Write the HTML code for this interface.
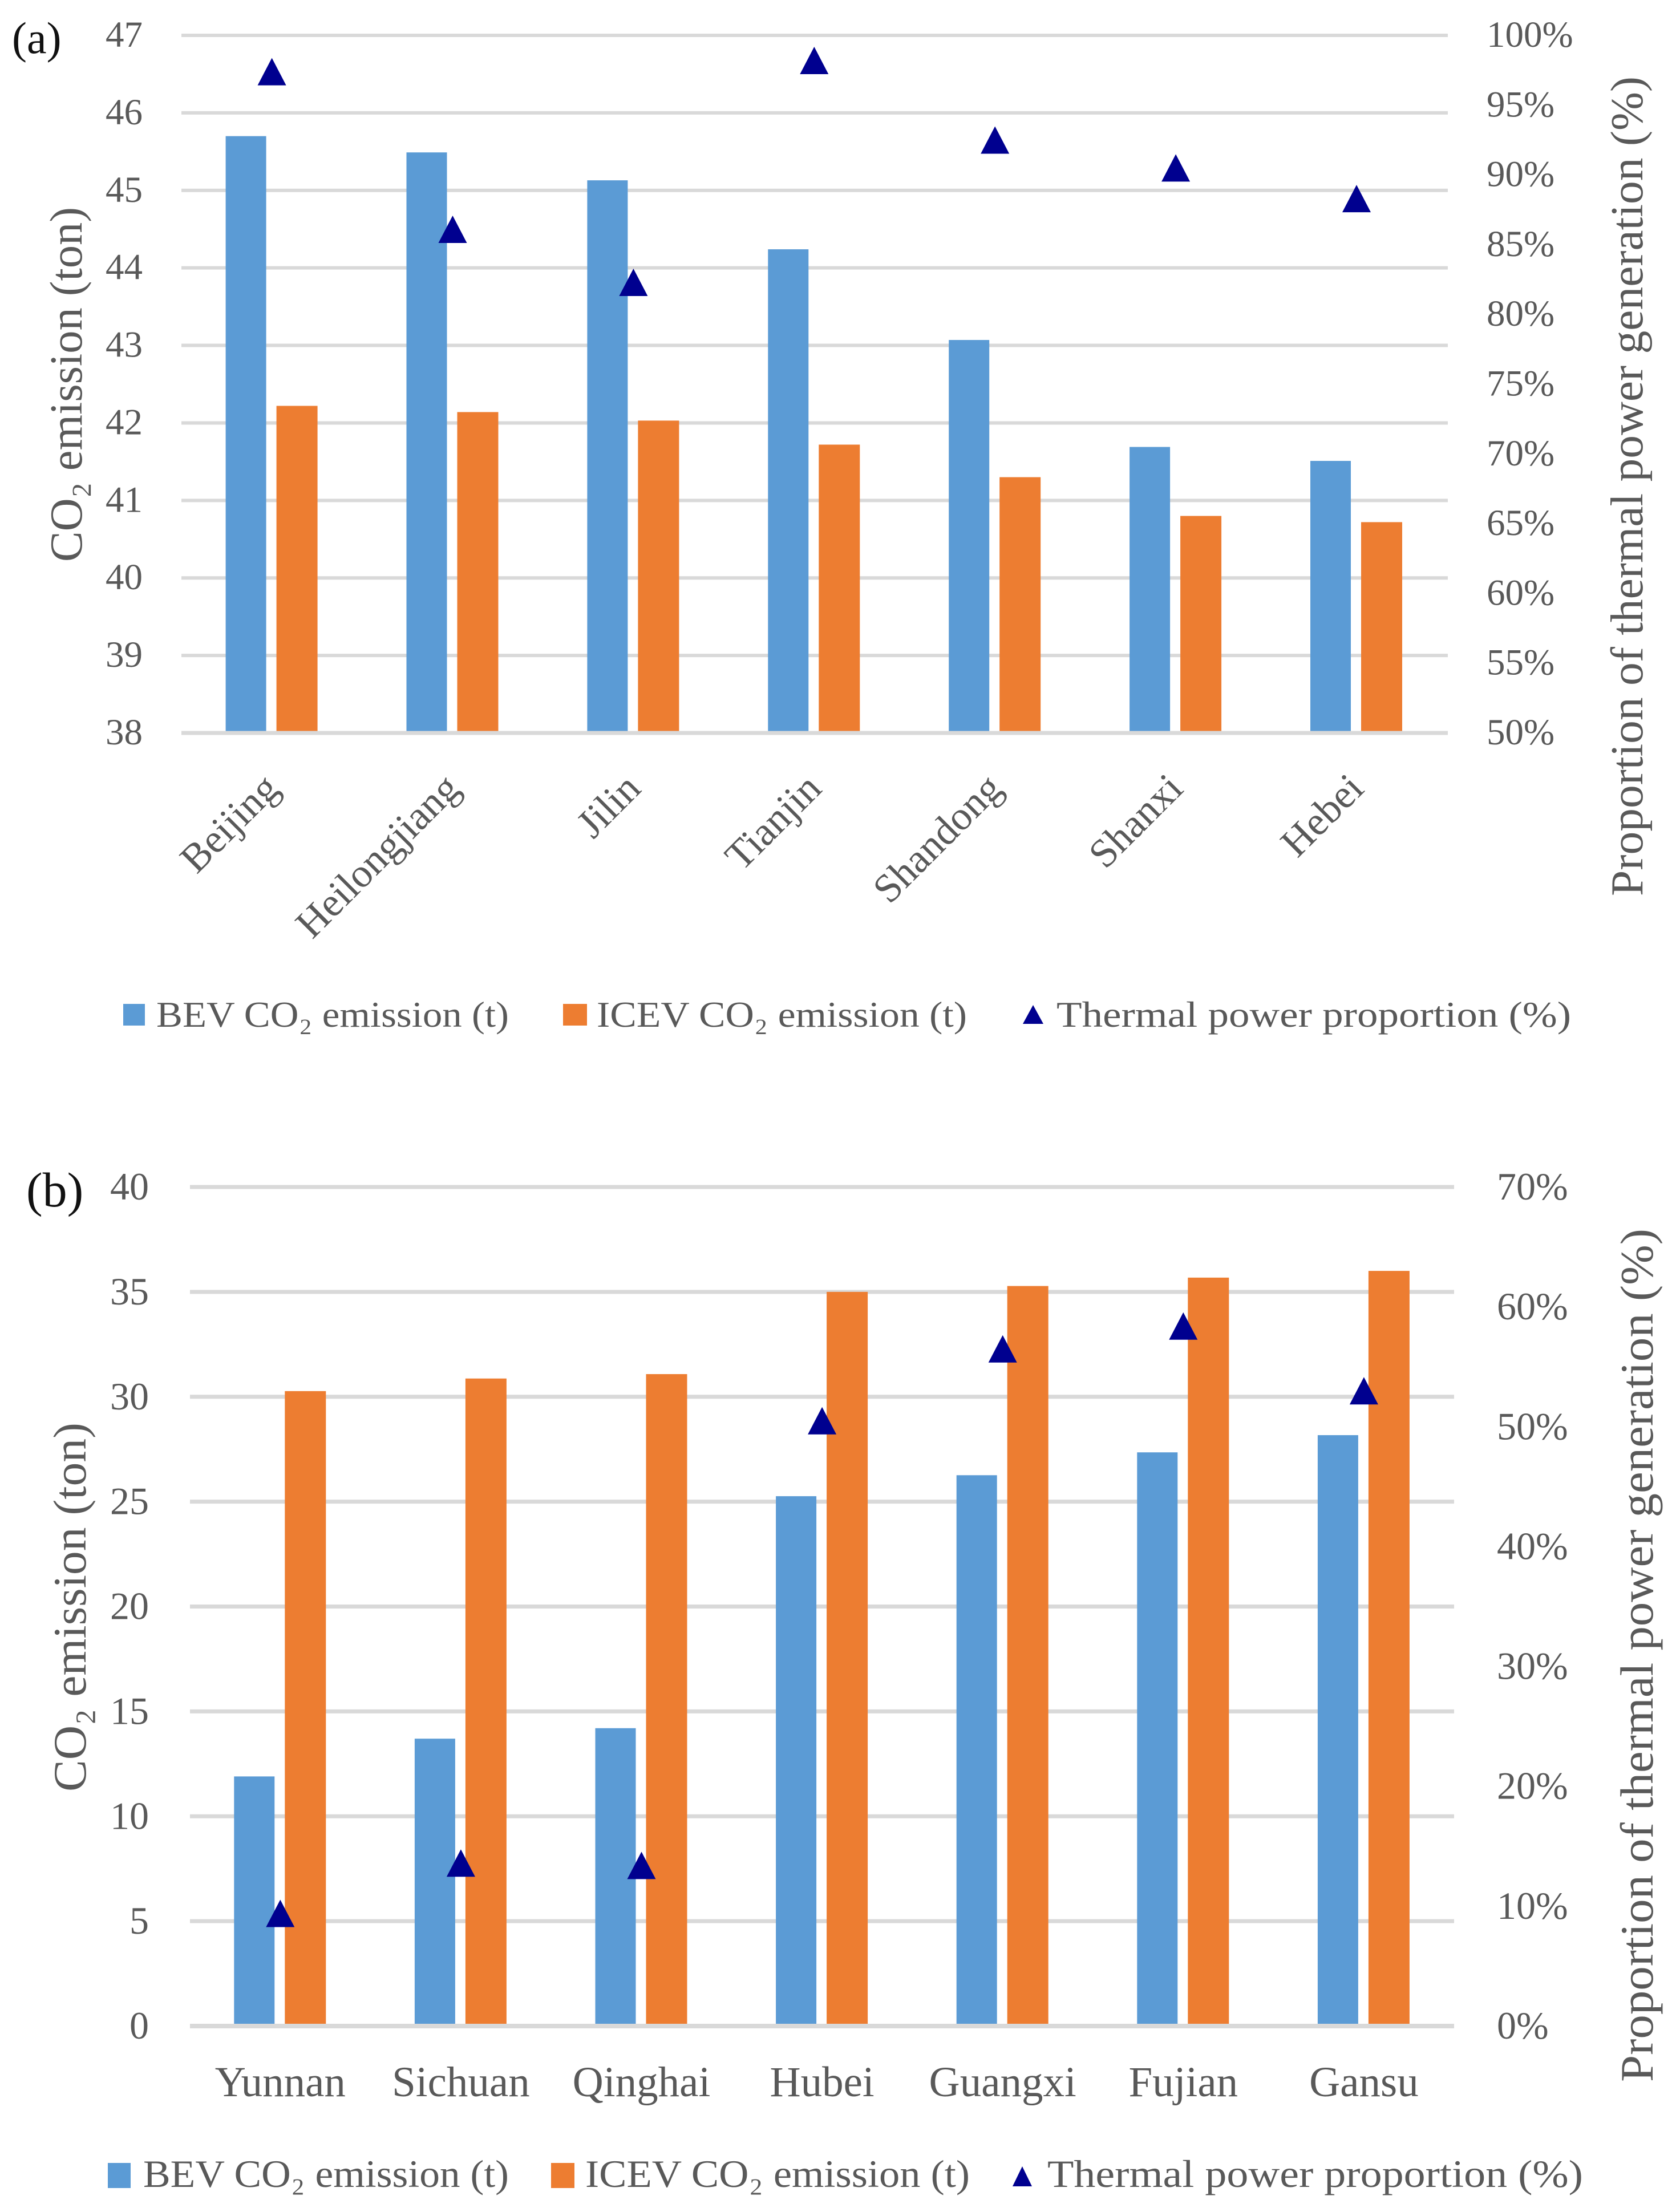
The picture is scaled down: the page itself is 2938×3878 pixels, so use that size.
<!DOCTYPE html>
<html lang="en">
<head>
<meta charset="utf-8">
<title>CO2 emission of BEV and ICEV by province</title>
<style>
html,body{margin:0;padding:0;background:#fff;}
svg{display:block;}
text{font-family:"Liberation Serif",serif;fill:#595959;}
</style>
</head>
<body>
<svg id="figure" xmlns="http://www.w3.org/2000/svg" width="2938" height="3878" viewBox="0 0 2938 3878">
  <rect width="2938" height="3878" fill="#fff"/>

  <g id="panelA"></g>
  <g id="panelB"></g>

  <text x="21" y="93" font-size="78" style="fill:#111">(a)</text>
  <text x="46" y="2115" font-size="86" style="fill:#111">(b)</text>

  <text transform="translate(143 985) rotate(-90)" font-size="80" textLength="622" lengthAdjust="spacingAndGlyphs">CO₂ emission (ton)</text>
  <text transform="translate(2879 1571) rotate(-90)" font-size="80" textLength="1437" lengthAdjust="spacingAndGlyphs">Proportion of thermal power generation (%)</text>
  <text transform="translate(150 3141) rotate(-90)" font-size="82" textLength="647" lengthAdjust="spacingAndGlyphs">CO₂ emission (ton)</text>
  <text transform="translate(2897 3650) rotate(-90)" font-size="82" textLength="1496" lengthAdjust="spacingAndGlyphs">Proportion of thermal power generation (%)</text>

  <g>
    <rect x="216" y="1760" width="38" height="38" fill="#5b9bd5"/>
    <text x="274" y="1800" font-size="64" textLength="618" lengthAdjust="spacingAndGlyphs">BEV CO₂ emission (t)</text>
    <rect x="987" y="1760" width="42" height="38" fill="#ed7d31"/>
    <text x="1046" y="1800" font-size="64" textLength="649" lengthAdjust="spacingAndGlyphs">ICEV CO₂ emission (t)</text>
    <polygon points="1811,1762 1829,1795 1793,1795" fill="#00008f"/>
    <text x="1852" y="1800" font-size="64" textLength="902" lengthAdjust="spacingAndGlyphs">Thermal power proportion (%)</text>
  </g>

  <g>
    <rect x="189" y="3792" width="40" height="44" fill="#5b9bd5"/>
    <text x="251" y="3834" font-size="68" textLength="641" lengthAdjust="spacingAndGlyphs">BEV CO₂ emission (t)</text>
    <rect x="966" y="3792" width="41" height="44" fill="#ed7d31"/>
    <text x="1026" y="3834" font-size="68" textLength="674" lengthAdjust="spacingAndGlyphs">ICEV CO₂ emission (t)</text>
    <polygon points="1792,3798 1809,3833 1775,3833" fill="#00008f"/>
    <text x="1836" y="3834" font-size="68" textLength="939" lengthAdjust="spacingAndGlyphs">Thermal power proportion (%)</text>
  </g>
</svg>

<script>
// Chart (a) data
const aCategories = ["Beijing", "Heilongjiang", "Jilin", "Tianjin", "Shandong", "Shanxi", "Hebei"];
const aBevValues = [45.70, 45.49, 45.13, 44.24, 43.07, 41.69, 41.51];
const aIcevValues = [42.22, 42.14, 42.03, 41.72, 41.30, 40.80, 40.72];
const aThermalValues = [97.4, 86.1, 82.3, 98.2, 92.5, 90.5, 88.3];
const aLeftTicks = [38, 39, 40, 41, 42, 43, 44, 45, 46, 47];
const aRightTicks = [50, 55, 60, 65, 70, 75, 80, 85, 90, 95, 100];

// Chart (b) data
const bCategories = ["Yunnan", "Sichuan", "Qinghai", "Hubei", "Guangxi", "Fujian", "Gansu"];
const bBevValues = [11.9, 13.7, 14.2, 25.26, 26.26, 27.35, 28.17];
const bIcevValues = [30.27, 30.87, 31.08, 35.0, 35.28, 35.68, 36.0];
const bThermalValues = [9.4, 13.6, 13.4, 50.5, 56.5, 58.4, 53.0];
const bLeftTicks = [0, 5, 10, 15, 20, 25, 30, 35, 40];
const bRightTicks = [0, 10, 20, 30, 40, 50, 60, 70];

const SVGNS = "http://www.w3.org/2000/svg";

function make(parent, tag, attrs, content) {
  const el = document.createElementNS(SVGNS, tag);
  for (const k in attrs) el.setAttribute(k, attrs[k]);
  if (content !== undefined) el.textContent = content;
  parent.appendChild(el);
  return el;
}

function drawChart(group, id, cats, bev, icev, thermal, leftTicks, rightTicks, geo) {
  const leftMin = leftTicks[0], leftMax = leftTicks[leftTicks.length - 1];
  const rightMin = rightTicks[0], rightMax = rightTicks[rightTicks.length - 1];
  const yLeft = v => geo.bottom - (v - leftMin) / (leftMax - leftMin) * (geo.bottom - geo.top);
  const yRight = v => geo.bottom - (v - rightMin) / (rightMax - rightMin) * (geo.bottom - geo.top);
  const xCenter = i => geo.firstCenter + geo.step * i;

  // gridlines behind the bars, except the baseline
  leftTicks.forEach(function (t) {
    if (t === leftMin) return;
    const line = make(group, "line", {x1: geo.left, x2: geo.right, y1: yLeft(t), y2: yLeft(t), stroke: "#d9d9d9", "stroke-width": geo.gridWidth});
    
    
  });

  // bars
  cats.forEach(function (c, i) {
    const cx = xCenter(i);
    const bevBar = make(group, "rect", {x: cx - 81, y: yLeft(bev[i]), width: 71, height: yLeft(leftMin) - yLeft(bev[i]), fill: "#5b9bd5"});
    
    
    const icevBar = make(group, "rect", {x: cx + geo.icevOffset, y: yLeft(icev[i]), width: 72, height: yLeft(leftMin) - yLeft(icev[i]), fill: "#ed7d31"});
    
    
  });

  // baseline
  const base = make(group, "line", {x1: geo.left, x2: geo.right, y1: yLeft(leftMin), y2: yLeft(leftMin), stroke: "#d9d9d9", "stroke-width": geo.gridWidth + 1});
  
  

  // thermal markers
  cats.forEach(function (c, i) {
    const cx = xCenter(i), cy = yRight(thermal[i]);
    const pts = cx + "," + (cy - 24) + " " + (cx + 25) + "," + (cy + 24) + " " + (cx - 25) + "," + (cy + 24);
    const mark = make(group, "polygon", {points: pts, fill: "#00008f"});
    
    
  });

  // left ticks
  leftTicks.forEach(function (t) {
    const label = make(group, "text", {x: geo.leftLabelX, y: yLeft(t) + geo.tickShift, "text-anchor": "end", "font-size": geo.tickSize}, String(t));
    
    
  });

  // right ticks
  rightTicks.forEach(function (t) {
    const label = make(group, "text", {x: geo.rightLabelX, y: yRight(t) + geo.tickShift, "font-size": geo.tickSize}, t + "%");
    
    
  });

  // category labels
  cats.forEach(function (c, i) {
    const cx = xCenter(i);
    let label;
    if (geo.rotateLabels) {
      const ax = cx + 16, ay = geo.catLabelY;
      label = make(group, "text", {x: ax, y: ay, "text-anchor": "end", "font-size": geo.catSize, transform: "rotate(-45 " + ax + " " + ay + ")"}, c);
    } else {
      label = make(group, "text", {x: cx, y: geo.catLabelY, "text-anchor": "middle", "font-size": geo.catSize}, c);
    }
    
    
  });
}

drawChart(document.getElementById("panelA"), "a", aCategories, aBevValues, aIcevValues, aThermalValues, aLeftTicks, aRightTicks, {
  left: 318, right: 2538, top: 62, bottom: 1285, gridWidth: 6, icevOffset: 8,
  firstCenter: 476.6, step: 316.9,
  leftLabelX: 250, rightLabelX: 2606, tickSize: 65, tickShift: 20,
  rotateLabels: true, catLabelY: 1386, catSize: 71
});

drawChart(document.getElementById("panelB"), "b", bCategories, bBevValues, bIcevValues, bThermalValues, bLeftTicks, bRightTicks, {
  left: 333, right: 2549, top: 2081, bottom: 3552, gridWidth: 7, icevOffset: 8,
  firstCenter: 491.3, step: 316.6,
  leftLabelX: 261, rightLabelX: 2624, tickSize: 68, tickShift: 22,
  rotateLabels: false, catLabelY: 3675, catSize: 75
});
</script>
</body>
</html>
